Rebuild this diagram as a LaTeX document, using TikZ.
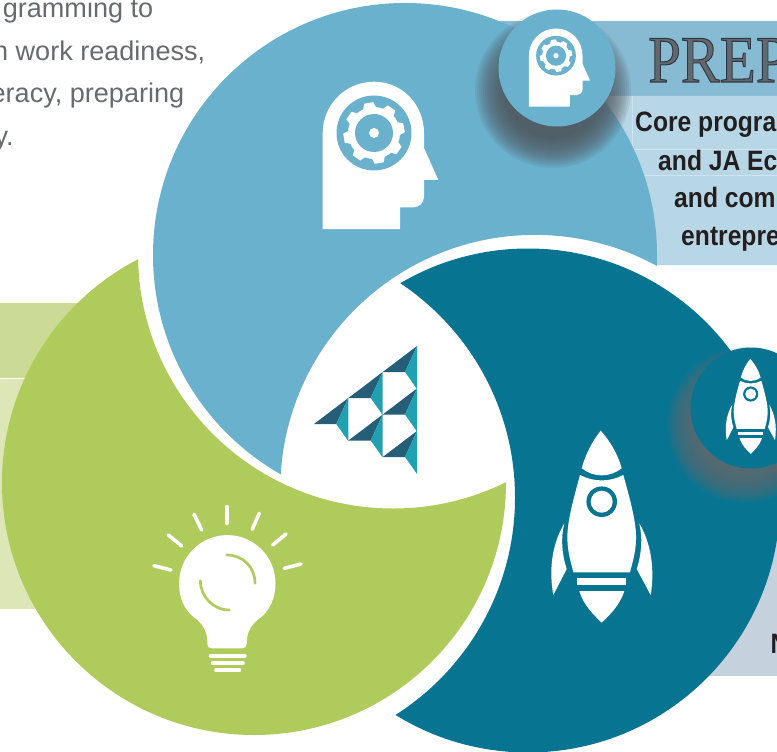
\documentclass[tikz,border=0pt]{standalone}
\usepackage{fontspec}
\setmainfont{Liberation Sans}
\newfontfamily\prepfam{Liberation Serif}
\definecolor{cblue}{HTML}{6AB1CE}
\definecolor{cteal}{HTML}{077592}
\definecolor{cgreen}{HTML}{AFCB5C}
\definecolor{bandblue}{HTML}{87BAD3}
\definecolor{lightblue}{HTML}{B8D7E6}
\definecolor{bandgreen}{HTML}{CBDB95}
\definecolor{lightgreen}{HTML}{DCE6B7}
\definecolor{lightgrey}{HTML}{C5D2DD}
\definecolor{logodark}{HTML}{265E78}
\definecolor{logoteal}{HTML}{20A0B0}
\definecolor{bodygrey}{HTML}{696A6C}
\definecolor{inkdark}{HTML}{231F20}
\definecolor{shadegrey}{HTML}{50555A}
\definecolor{shaderocket}{HTML}{666A6E}
\tikzset{
  introline/.style={anchor=base east,text=bodygrey,inner sep=0pt,font=\fontsize{20.3pt}{24pt}\selectfont},
  boldline/.style={anchor=base west,text=inkdark,inner sep=0pt,xscale=.88,font=\bfseries\fontsize{21pt}{24pt}\selectfont},
  titleline/.style={anchor=base west,inner sep=0pt,xscale=.88,font=\prepfam\fontsize{50pt}{50pt}\selectfont},
  ray/.style={white,line width=2.7pt,line cap=round},
  glint/.style={cgreen,line width=2pt,line cap=round},
  basebar/.style={white,line width=2.7pt,line cap=round},
}
\newcommand{\headicon}[3]{%
\begin{scope}[shift={(#1,#2)},scale=#3]
  \fill[white] (-51.3,96) -- (-51.3,0) .. controls (-51.3,-28.3) and (-28.3,-51.3) .. (0,-51.3)
    .. controls (28.3,-51.3) and (50,-28.3) .. (50,0) -- (50,15) -- (64.3,47) -- (50,47) -- (50,63.7)
    .. controls (50,70) and (45,74.3) .. (39.3,74.3) -- (26,74.3) -- (26,96) -- cycle;
  \fill[cblue] (0,0) circle (37.5);
  \fill[white] (0,0) circle (26);
  \foreach \a in {10,55,100,145,190,235,280,325}
    \fill[white,rotate=\a] (-6.5,-25) -- (-4.5,-30.5) -- (4.5,-30.5) -- (6.5,-25) -- cycle;
  \fill[cblue] (0,0) circle (19);
  \fill[white] (0,0) circle (5);
\end{scope}}
\newcommand{\rocketicon}[3]{%
\begin{scope}[shift={(#1,#2)},scale=#3]
  \fill[white] (-1,-71) .. controls (-9,-61) and (-16,-48) .. (-20,-33.4)
    .. controls (-8,-24) and (8,-24) .. (20,-33.4) .. controls (16,-48) and (8,-61) .. (-1,-71) -- cycle;
  \fill[white] (-21.7,-26.7) .. controls (-8,-19.5) and (8,-19.5) .. (21.6,-26.7)
    .. controls (29,0) and (35,22) .. (34.3,38.3) .. controls (34,50) and (31,60) .. (28.3,70.6)
    -- (-28.3,70.6) .. controls (-31,60) and (-34,50) .. (-34.3,38.3)
    .. controls (-35,22) and (-29,0) .. (-21.7,-26.7) -- cycle;
  \fill[cteal] (0,0) circle (15.3);
  \fill[white] (0,0) circle (11);
  \fill[white] (-24.7,76) rectangle (24.3,83.3);
  \fill[white] (-22.4,89.3) -- (22.6,89.3) .. controls (18,104) and (8,113) .. (0,121)
    .. controls (-8,113) and (-18,104) .. (-22.4,89.3) -- cycle;
  \fill[white] (-37.4,21.6) .. controls (-47,38) and (-54,62) .. (-48.4,93.3) -- (-35,67.3)
    .. controls (-40,52) and (-41,36) .. (-37.4,21.6) -- cycle;
  \fill[white] (37.6,21.6) .. controls (47,38) and (54,62) .. (49,93.3) -- (35,67.3)
    .. controls (40,52) and (41,36) .. (37.6,21.6) -- cycle;
\end{scope}}
\begin{document}
\begin{tikzpicture}[x=.75pt,y=-.75pt]
\useasboundingbox (0,0) rectangle (777,752);
\clip (0,0) rectangle (777,752);
% background bands
\fill[bandblue] (500,21) rectangle (777,95.7);
\fill[lightblue] (590,96) -- (777,96) -- (777,265) -- (657,265) -- (657,250) -- (652,215) -- (590,215) -- cycle;
\draw[white,opacity=.35,line width=.4pt] (632,96) -- (632,149) (632,149) -- (777,149) (632,175) -- (777,175);
\fill[bandgreen] (0,303) rectangle (90,378);
\fill[lightgreen] (0,378.7) rectangle (90,609);
\fill[lightgrey] (650,470) rectangle (777,676);
% intro text
\node[introline] (intro1) at (153.5,18) {gramming to};
\node[introline] (intro2) at (205.5,61) {n work readiness,};
\node[introline] (intro3) at (184.5,103) {eracy, preparing};
\node[introline] (intro4) at (14,146) {y.};
% title and bold text
\node[titleline] (title) at (648,82) {\special{pdf:code q 2 Tr 0.8 w 0.2 0.22 0.25 RG 0.38 0.41 0.44 rg}PREP\special{pdf:code Q}};
\node[boldline] (core1) at (635,132) {Core progra};
\node[boldline] (core2) at (658,171) {and JA Ec};
\node[boldline] (core3) at (674,208) {and com};
\node[boldline] (core4) at (681,245) {entrepre};
\node[boldline] (core5) at (770.5,653) {N};
% swirl
\begin{scope}[even odd rule]
  \clip (-20,-20) rectangle (900,900) (535,489.6) circle (254.7);
  \fill[cblue] (405,255) circle (252);
\end{scope}
\begin{scope}[even odd rule]
  \clip (-20,-20) rectangle (900,900) (393,253.5) circle (255);
  \fill[cgreen] (254,483) circle (252);
\end{scope}
\begin{scope}[even odd rule]
  \clip (-20,-20) rectangle (900,900) (257.5,497.5) circle (257.5);
  \fill[cteal] (528,500.5) circle (252);
\end{scope}
% logo
\foreach \ax/\ay in {417/346,382.7/372,417/388.5,348.3/398,382.7/414.5,417/431}{
  \fill[logodark] (\ax,\ay) -- ++(-34.3,26) -- ++(22.3,0) -- cycle;
  \fill[logoteal] (\ax,\ay) -- ++(-12,26) -- ++(12,17) -- cycle;
}
% large icons
\headicon{374}{133}{1}
\rocketicon{601.7}{501.7}{1}
% bulb
\fill[white] (227.3,535.1) .. controls (200.7,535.1) and (179.1,556.7) .. (179.1,583.3)
  .. controls (179.1,598) and (184,609) .. (193.3,616.7)
  .. controls (202,623) and (206.5,630) .. (207.3,640) -- (207.3,644)
  .. controls (207.3,647) and (209,648.3) .. (212,648.3) -- (242,648.3)
  .. controls (245,648.3) and (246.7,647) .. (246.7,644) -- (247.3,636.7)
  .. controls (249,628) and (254,622) .. (261.7,616.7)
  .. controls (270,609) and (275.5,598) .. (275.5,583.3)
  .. controls (275.5,556.7) and (253.9,535.1) .. (227.3,535.1) -- cycle;
\draw[glint] (226.7,555) .. controls (243,555) and (255,567) .. (255,583.3);
\draw[glint] (200.3,580.7) .. controls (200.3,596) and (213,610) .. (229.3,610);
\foreach \xa/\ya/\xb/\yb in {226.7/506.7/226.7/523.3, 194/514.3/201.7/530, 259.3/513.3/252.3/529.3,
  168.3/535/181.7/546, 286/534/272.7/545, 154/565.7/171/570, 301/564/284.3/568.3}
  \draw[ray] (\xa,\ya) -- (\xb,\yb);
\draw[basebar] (210.5,655.7) -- (245,655.7);
\draw[basebar] (212.5,663) -- (243,663);
\draw[basebar] (216,670) -- (239.5,670);
% shadows and small circles
\foreach \r in {48,50,...,78} \fill[shadegrey,fill opacity=.11] (553,90) circle (\r);
\fill[cblue] (557,68) circle (58.5);
\headicon{556}{55.7}{.53}
\foreach \r in {48,50,...,78} \fill[shaderocket,fill opacity=.11] (745,425) circle (\r);
\fill[cteal] (751,408) circle (60.5);
\rocketicon{750.7}{394}{.495}
\end{tikzpicture}
\end{document}
